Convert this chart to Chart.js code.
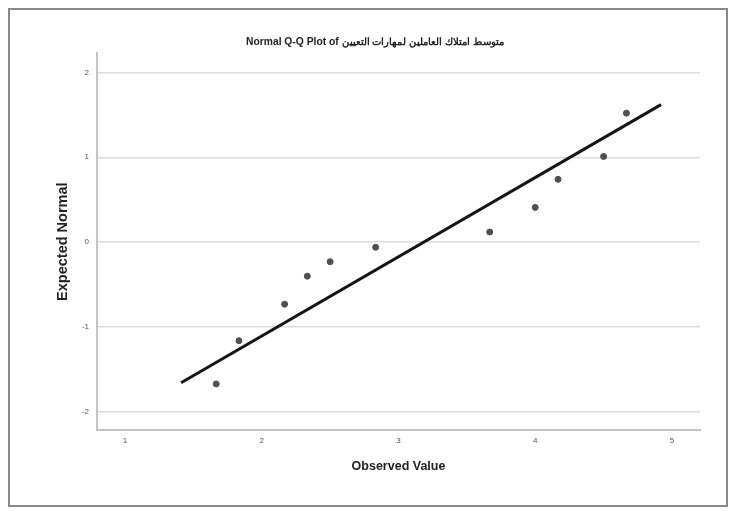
<!DOCTYPE html>
<html>
<head>
<meta charset="utf-8">
<script src="https://cdn.jsdelivr.net/npm/chart.js@4"></script>
<style>
  html, body { margin: 0; padding: 0; background: #fff; }
  #wrap { position: relative; width: 735px; height: 513px; }
  #frame {
    position: absolute; left: 8px; top: 8px; width: 716px; height: 495px;
    border: 2px solid #8a8a8a; pointer-events: none;
  }
</style>
</head>
<body>
<div id="wrap">
  <canvas id="qq" width="735" height="513"></canvas>
  <div id="frame"></div>
</div>
<script>
// observed values and their expected normal scores
const observed = [1.667, 1.833, 2.167, 2.333, 2.5, 2.833, 3.667, 4.0, 4.167, 4.5, 4.667];
const expected = [-1.67, -1.16, -0.73, -0.40, -0.23, -0.06, 0.12, 0.41, 0.74, 1.01, 1.52];

// reference line end points
const lineX = [1.41, 4.92];
const lineY = [-1.655, 1.62];

const xTicks = [1, 2, 3, 4, 5];
const yTicks = [-2, -1, 0, 1, 2];

const title = "Normal Q-Q Plot of متوسط امتلاك العاملين لمهارات التعيين";

const font = "'Liberation Sans', Arial, sans-serif";

const ctx = document.getElementById("qq").getContext("2d");

new Chart(ctx, {
  type: "scatter",
  data: {
    datasets: [
      {
        label: "points",
        data: observed.map((x, i) => ({ x, y: expected[i] })),
        backgroundColor: "#505050",
        borderColor: "#505050",
        pointRadius: 3,
        pointHoverRadius: 3,
        showLine: false
      },
      {
        label: "line",
        data: lineX.map((x, i) => ({ x, y: lineY[i] })),
        borderColor: "#151515",
        borderWidth: 3,
        pointRadius: 0,
        showLine: true,
        fill: false
      }
    ]
  },
  options: {
    responsive: false,
    animation: false,
    layout: { padding: { left: 50, right: 35, top: 0, bottom: 35 } },
    plugins: {
      legend: { display: false },
      tooltip: { enabled: false },
      title: {
        display: true,
        text: title,
        color: "#222",
        font: { family: font, size: 10.3, weight: "bold" },
        padding: { top: 36, bottom: 5 }
      }
    },
    scales: {
      x: {
        type: "linear",
        min: 0.795,
        max: 5.205,
        afterBuildTicks: s => { s.ticks = xTicks.map(v => ({ value: v })); },
        afterFit: s => { s.height = 48; },
        grid: { display: false, drawTicks: false },
        border: { display: true, color: "#c4c4c4", width: 2 },
        ticks: { color: "#555", font: { family: font, size: 8 }, padding: 6 },
        title: {
          display: true,
          text: "Observed Value",
          color: "#222",
          font: { family: font, size: 12.5, weight: "bold" }
        }
      },
      y: {
        type: "linear",
        min: -2.212,
        max: 2.224,
        afterBuildTicks: s => { s.ticks = yTicks.map(v => ({ value: v })); },
        afterFit: s => { s.width = 47; },
        grid: { color: "#dcdcdc", lineWidth: 1.5, drawTicks: false },
        border: { display: true, color: "#c4c4c4", width: 2 },
        ticks: { color: "#555", font: { family: font, size: 8 }, padding: 8 },
        title: {
          display: true,
          text: "Expected Normal",
          color: "#222",
          font: { family: font, size: 14.5, weight: "bold" }
        }
      }
    }
  }
});
</script>
</body>
</html>
